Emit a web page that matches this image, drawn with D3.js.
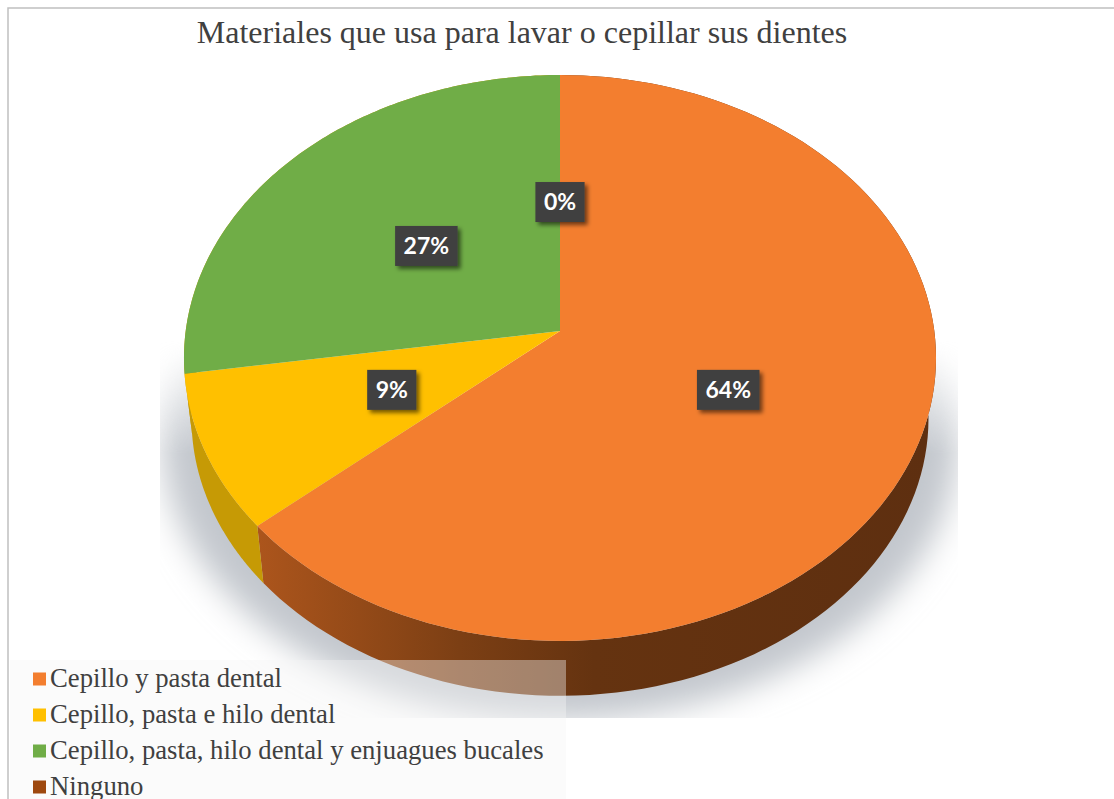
<!DOCTYPE html>
<html><head><meta charset="utf-8">
<script src="https://cdn.jsdelivr.net/npm/d3@7"></script>
<style>html,body{margin:0;padding:0;background:#fff;overflow:hidden}</style>
</head><body><div id="chart"></div>
<script>
const titleText = "Materiales que usa para lavar o cepillar sus dientes";
const categories = ["Cepillo y pasta dental","Cepillo, pasta e hilo dental","Cepillo, pasta, hilo dental y enjuagues bucales","Ninguno"];
const values = [63.7, 8.9, 27.4, 0];
const colors = ["#F37E2F","#FFC000","#70AD47","#9E480E"];
const wallColors = ["url(#wallOrange)","#C69A05","#C69A05","#6E320A"];

const W = 1114, H = 799;
const svg = d3.select("#chart").append("svg").attr("width",W).attr("height",H).style("display","block");
const defs = svg.append("defs");

// wall gradient
const wg = defs.append("linearGradient").attr("id","wallOrange").attr("gradientUnits","userSpaceOnUse")
  .attr("x1",258).attr("x2",930).attr("y1",0).attr("y2",0);
[[0,"#AC551C"],[0.3,"#7C3F14"],[0.5,"#653310"],[1,"#5E2F10"]].forEach(s=>wg.append("stop").attr("offset",s[0]).attr("stop-color",s[1]));

// shadow
const blur = defs.append("filter").attr("id","sb").attr("x","-20%").attr("y","-20%").attr("width","140%").attr("height","140%");
blur.append("feGaussianBlur").attr("stdDeviation",16);
const sg = defs.append("linearGradient").attr("id","shadowFade").attr("x1",0).attr("x2",0).attr("y1",0).attr("y2",1);
[[0,0],[0.3,1],[1,1]].forEach(s=>sg.append("stop").attr("offset",s[0]).attr("stop-color","#fff").attr("stop-opacity",s[1]));
const mask = defs.append("mask").attr("id","shadowMask").attr("maskUnits","userSpaceOnUse")
  .attr("x",0).attr("y",0).attr("width",W).attr("height",H);
mask.append("rect").attr("x",160).attr("y",340).attr("width",798).attr("height",378).attr("fill","url(#shadowFade)");
const lblShadow = defs.append("filter").attr("id","ls").attr("x","-30%").attr("y","-30%").attr("width","170%").attr("height","170%");
lblShadow.append("feDropShadow").attr("dx",3).attr("dy",3).attr("stdDeviation",2).attr("flood-color","#000").attr("flood-opacity",0.55);

// frame: top and left rules only
svg.append("path").attr("d",`M8 ${H} V8 H${W}`).attr("fill","none").attr("stroke","#c0c0c0").attr("stroke-width",1.5);

// perspective disc projection
const cx = 560, topApexY = 331, rimA = 374.3, rimB = 280.4, k = -0.0954;
const wallScale = 0.98, wallApexY = 392;
const proj = (a, r, s, y0) => {
  const u = Math.sin(a)*r, v = -Math.cos(a)*r, d = 1 + k*v;
  return [cx + s*rimA*u/d, y0 + s*rimB*v/d];
};
const sampled = (a0, a1) => d3.range(0, 121).map(i => a0 + (a1-a0)*i/120);
const line = d3.line();
const arcs = d3.pie().sort(null).value(d=>d)(values);

// shadow ellipse
svg.append("g").attr("mask","url(#shadowMask)")
  .append("ellipse").attr("cx",cx).attr("cy",440).attr("rx",398).attr("ry",280)
  .attr("fill","#C3C7CD").attr("filter","url(#sb)");

// walls
svg.append("g").selectAll("path").data(arcs).join("path")
  .attr("d", d => {
    const as = sampled(d.startAngle, d.endAngle);
    return line(as.map(a=>proj(a,1,1,topApexY)).concat(as.slice().reverse().map(a=>proj(a,1,wallScale,wallApexY)))) + "Z";
  })
  .attr("fill",(d,i)=>wallColors[i]);

// top faces
svg.append("g").selectAll("path").data(arcs).join("path")
  .attr("d", d => line([[cx,topApexY]].concat(sampled(d.startAngle,d.endAngle).map(a=>proj(a,1,1,topApexY)))) + "Z")
  .attr("fill",(d,i)=>colors[i]);

// data labels
const total = d3.sum(values);
const labelFont = "Lato, sans-serif";
const lg = svg.append("g");
arcs.forEach((d,i)=>{
  const mid = (d.startAngle+d.endAngle)/2;
  const [x,y] = proj(mid,0.485,1,topApexY);
  const g = lg.append("g").attr("transform",`translate(${x},${y+1})`);
  const txt = d3.format(".0%")(d.value/total);
  const rect = g.append("rect").attr("fill","#404040").attr("filter","url(#ls)");
  const t = g.append("text").attr("text-anchor","middle").attr("dy","0.36em")
    .attr("font-family",labelFont).attr("font-weight",700).attr("font-size",23).attr("fill","#fff").text(txt);
  const w = t.node().getComputedTextLength()+17;
  rect.attr("x",-w/2).attr("y",-20).attr("width",w).attr("height",40);
});

// title
svg.append("text").attr("x",522).attr("y",43).attr("text-anchor","middle")
  .attr("font-family","'Liberation Serif', serif").attr("font-size",32).attr("fill","#404040").text(titleText);

// legend
svg.append("rect").attr("x",10).attr("y",660).attr("width",556).attr("height",139).attr("fill","#f5f5f5").attr("opacity",0.4);
const rowY = d3.scalePoint().domain(categories).range([679,787]);
const leg = svg.append("g").selectAll("g").data(categories).join("g").attr("transform",d=>`translate(33,${rowY(d)})`);
leg.append("rect").attr("x",0).attr("y",-6.5).attr("width",13).attr("height",13).attr("fill",(d,i)=>colors[i]);
leg.append("text").attr("x",17).attr("y",8).attr("font-family","'Liberation Serif', serif").attr("font-size",26.7).attr("fill","#404040").text(d=>d);
</script></body></html>
